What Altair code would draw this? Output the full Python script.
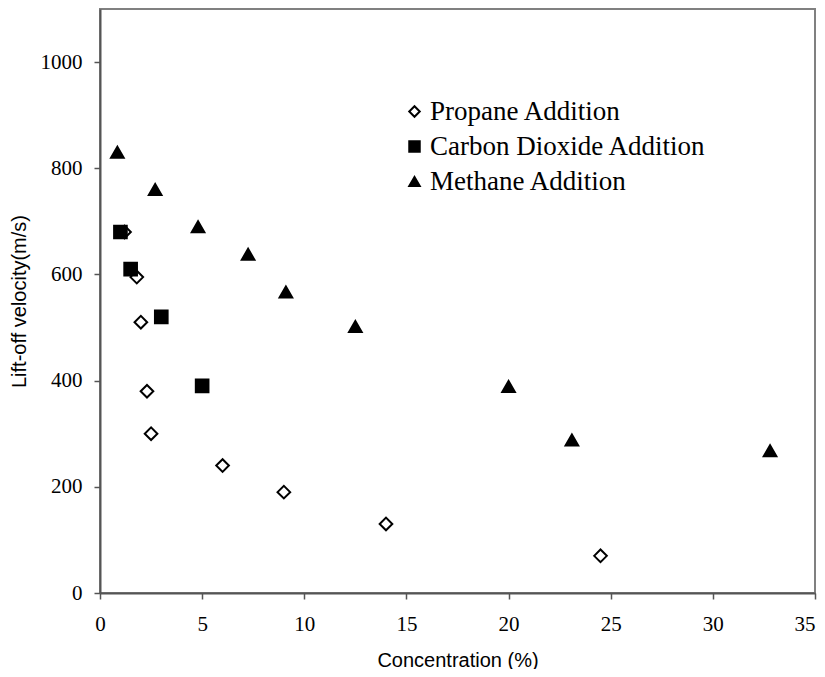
import altair as alt
import pandas as pd

series = ["Propane Addition", "Carbon Dioxide Addition", "Methane Addition"]

propane_x = [1.2, 1.8, 2.0, 2.3, 2.5, 6.0, 9.0, 14.0, 24.5]
propane_y = [680, 595, 510, 380, 300, 240, 190, 130, 70]

co2_x = [1.0, 1.5, 3.0, 5.0]
co2_y = [680, 610, 520, 390]

methane_x = [0.85, 2.7, 4.8, 7.25, 9.1, 12.5, 20.0, 23.1, 32.8]
methane_y = [830, 760, 690, 638, 567, 502, 389, 288, 268]

x_ticks = [0, 5, 10, 15, 20, 25, 30, 35]
y_ticks = [0, 200, 400, 600, 800, 1000]

rows = []
for name, xs, ys in [(series[0], propane_x, propane_y),
                     (series[1], co2_x, co2_y),
                     (series[2], methane_x, methane_y)]:
    for xv, yv in zip(xs, ys):
        rows.append({"series": name, "conc": xv, "vel": yv})
df = pd.DataFrame(rows)

legend = alt.Legend(
    title=None, orient="none", legendX=301, legendY=89,
    labelFont="Liberation Serif", labelFontSize=27, labelColor="black",
    labelLimit=0, symbolStrokeWidth=2,
    rowPadding=7, labelOffset=2,
)

chart = alt.Chart(df).mark_point(strokeWidth=2, opacity=1, size=160).encode(
    x=alt.X("conc:Q",
            scale=alt.Scale(domain=[0, 35], nice=False),
            axis=alt.Axis(values=x_ticks, title="Concentration (%)", grid=False,
                          labelFlush=False,
                          labelAlign={"condition": {"test": "datum.value == 35", "value": "right"},
                                      "value": "center"},
                          labelPadding=14, titlePadding=16)),
    y=alt.Y("vel:Q",
            scale=alt.Scale(domain=[0, 1100], nice=False),
            axis=alt.Axis(values=y_ticks, title="Lift-off velocity(m/s)", grid=False,
                          format="d", labelFlush=False, labelPadding=12, titlePadding=11)),
    shape=alt.Shape("series:N",
                    scale=alt.Scale(domain=series, range=["diamond", "square", "triangle-up"]),
                    legend=legend),
    fill=alt.Fill("series:N",
                  scale=alt.Scale(domain=series, range=["white", "black", "black"]),
                  legend=legend),
    stroke=alt.Stroke("series:N",
                      scale=alt.Scale(domain=series, range=["black", "black", "black"]),
                      legend=legend),
).properties(
    width=715, height=584,
    autosize=alt.AutoSizeParams(type="none"),
    padding={"left": 92, "top": 1, "right": 2, "bottom": 76},
).configure_view(
    stroke="#808080", strokeWidth=2
).configure_legend(
    symbolSize=110
).configure_axis(
    labelFont="Liberation Serif", labelFontSize=21, labelColor="black",
    titleFont="Liberation Sans", titleFontSize=20, titleFontWeight="normal", titleColor="black",
    domainColor="#555555", domainWidth=2, tickColor="#555555", tickWidth=1.5, tickSize=6,
)

chart.save("out.html", embed_options={"renderer": "svg", "actions": False})
